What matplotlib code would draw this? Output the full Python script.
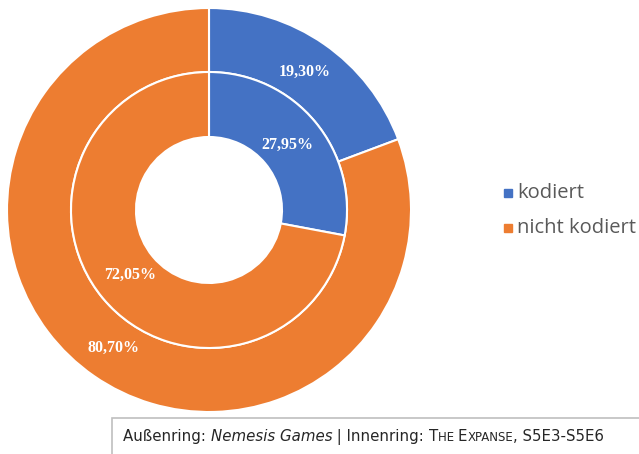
import numpy as np
import matplotlib.pyplot as plt
from matplotlib.patches import Rectangle

# data
categories = ['kodiert', 'nicht kodiert']
outer_values = [19.30, 80.70]   # Nemesis Games
inner_values = [27.95, 72.05]   # The Expanse, S5E3-S5E6
colors = ['#4472C4', '#ED7D31']

W, H = 639, 454
fig = plt.figure(figsize=(W / 100, H / 100), dpi=100)

# pie axes: center (209, 210) px, radius 202 px
cx, cy, r = 209, 210, 202
ax = fig.add_axes([(cx - r) / W, (H - cy - r) / H, 2 * r / W, 2 * r / H])

r_mid = 138 / r
r_hole = 73 / r


def fmt(p):
    return f'{p:.2f}'.replace('.', ',') + '%'


lab_font = dict(family='Liberation Serif', weight='bold', size=11.5, color='white')

w_out, _, t_out = ax.pie(outer_values, colors=colors, radius=1.0, startangle=90,
                         counterclock=False, autopct=fmt, pctdistance=0.83,
                         wedgeprops=dict(width=1.0 - r_mid, edgecolor='white', linewidth=1.5),
                         textprops=lab_font)
w_in, _, t_in = ax.pie(inner_values, colors=colors, radius=r_mid, startangle=90,
                       counterclock=False, autopct=fmt, pctdistance=0.74,
                       wedgeprops=dict(width=r_mid - r_hole, edgecolor='white', linewidth=1.5),
                       textprops=lab_font)
ax.set_xlim(-1, 1)
ax.set_ylim(-1, 1)
ax.set_aspect('equal')
ax.axis('off')

# legend
leg_y = [193, 228]
for name, col, y in zip(categories, colors, leg_y):
    fig.add_artist(Rectangle(((508 - 4) / W, (H - y - 4) / H), 8 / W, 8 / H,
                             transform=fig.transFigure, color=col))
    fig.text(517 / W, (H - y) / H, name, fontsize=14.5, color='#595959',
             family='Open Sans', va='center', ha='left')

# caption box
fig.add_artist(Rectangle((112 / W, -0.02), 0.9, (H - 418) / H + 0.02,
                         transform=fig.transFigure, facecolor='white',
                         edgecolor='#bfbfbf', linewidth=1.2))

cap_size = 10.8
small = cap_size * 0.78
pieces = [
    ('Außenring: ', cap_size, 'normal'),
    ('Nemesis Games', cap_size, 'italic'),
    (' | Innenring: ', cap_size, 'normal'),
    ('T', cap_size, 'normal'),
    ('HE ', small, 'normal'),
    ('E', cap_size, 'normal'),
    ('XPANSE', small, 'normal'),
    (', S5E3-S5E6', cap_size, 'normal'),
]
fig.canvas.draw()
renderer = fig.canvas.get_renderer()
x = 123
for txt, size, style in pieces:
    t = fig.text(x / W, (H - 441) / H, txt, fontsize=size, style=style,
                 family='DejaVu Sans', color='#262626', va='baseline', ha='left')
    bb = t.get_window_extent(renderer=renderer)
    x += bb.width

fig.savefig('out.png', dpi=100)
